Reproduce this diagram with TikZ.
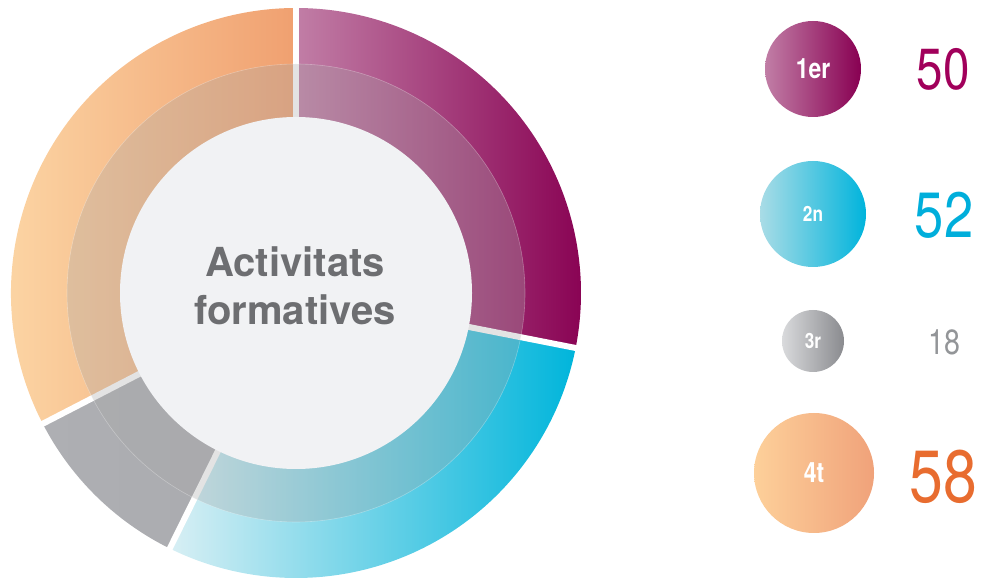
\documentclass[tikz,border=0pt]{standalone}
\usepackage{fontspec}
\setmainfont{TeX Gyre Heros}
\newfontfamily\narrowfont[FakeStretch=0.82]{TeX Gyre Heros}
\usepackage{tikz}

\definecolor{firstL}{HTML}{C17EA6}
\definecolor{firstR}{HTML}{880052}
\definecolor{secondL}{HTML}{D8EFF4}
\definecolor{secondR}{HTML}{00B5DB}
\definecolor{thirdL}{HTML}{AEAFB3}
\definecolor{thirdR}{HTML}{A9AAAE}
\definecolor{fourthL}{HTML}{FDDBAA}
\definecolor{fourthR}{HTML}{F0A070}
\definecolor{veil}{HTML}{A8A8A8}
\definecolor{hole}{HTML}{F1F2F4}
\definecolor{titlegray}{HTML}{6D6E71}
\definecolor{firstN}{HTML}{A1005B}
\definecolor{secondN}{HTML}{00AEDB}
\definecolor{thirdN}{HTML}{939598}
\definecolor{fourthN}{HTML}{E86C2F}
\definecolor{bubble3L}{HTML}{D9DADC}
\definecolor{bubble3R}{HTML}{8A8B8F}
\definecolor{bubble4L}{HTML}{FDD09A}
\definecolor{bubble4R}{HTML}{F0A27A}
\definecolor{bubble2L}{HTML}{A9DCE6}
\definecolor{bubble2R}{HTML}{00B4DC}

\tikzset{
  gap/.style={white, line width=6pt},
  bubble/.style={circle, inner sep=0pt, text=white, font=\narrowfont\bfseries},
  count/.style={anchor=base, font=\narrowfont},
  titleline/.style={anchor=base, text=titlegray, font=\bfseries\fontsize{40}{42}\selectfont},
}

\begin{document}
\begin{tikzpicture}[x=1pt,y=1pt]
\useasboundingbox (0,0) rectangle (982,578);

\coordinate (c) at (296,285);
\shade[left color=firstL, right color=firstR]
  (c) -- ++(90:285) arc[start angle=90, end angle=-11.124, radius=285] -- cycle;
\shade[left color=secondL, right color=secondR]
  (c) -- ++(-11.124:285) arc[start angle=-11.124, end angle=-116.292, radius=285] -- cycle;
\shade[left color=thirdL, right color=thirdR]
  (c) -- ++(-116.292:285) arc[start angle=-116.292, end angle=-152.697, radius=285] -- cycle;
\shade[left color=fourthL, right color=fourthR]
  (c) -- ++(-152.697:285) arc[start angle=-152.697, end angle=-270, radius=285] -- cycle;

\draw[gap] (c) -- ++(90:290);
\draw[gap] (c) -- ++(-11.124:290);
\draw[gap] (c) -- ++(-116.292:290);
\draw[gap] (c) -- ++(-152.697:290);

\fill[veil, opacity=0.32] (c) circle (229);
\draw[white, opacity=0.3, line width=0.6pt] (c) circle (229);
\fill[hole] (c) circle (176);

\node (title1) [titleline] at (295,301) {Activitats};
\node (title2) [titleline] at (295,253) {formatives};

\node (first) [bubble, minimum size=96, left color=firstL, right color=firstR,
  font=\narrowfont\bfseries\fontsize{28}{30}\selectfont] at (813,509) {1er};
\node (second) [bubble, minimum size=106, left color=bubble2L, right color=bubble2R,
  font=\narrowfont\bfseries\fontsize{21}{23}\selectfont] at (813,364) {2n};
\node (third) [bubble, minimum size=62, left color=bubble3L, right color=bubble3R,
  font=\narrowfont\bfseries\fontsize{21}{23}\selectfont] at (813,237) {3r};
\node (fourth) [bubble, minimum size=120, left color=bubble4L, right color=bubble4R,
  font=\narrowfont\bfseries\fontsize{28}{30}\selectfont] at (814,105) {4t};

\node (n1) [count, text=firstN, font=\narrowfont\fontsize{58}{60}\selectfont] at (943,488) {50};
\node (n2) [count, text=secondN, font=\narrowfont\fontsize{64}{66}\selectfont] at (944,340) {52};
\node (n3) [count, text=thirdN, font=\narrowfont\fontsize{35}{37}\selectfont] at (944,223) {18};
\node (n4) [count, text=fourthN, font=\narrowfont\fontsize{74}{76}\selectfont] at (943,75) {58};
\end{tikzpicture}
\end{document}
